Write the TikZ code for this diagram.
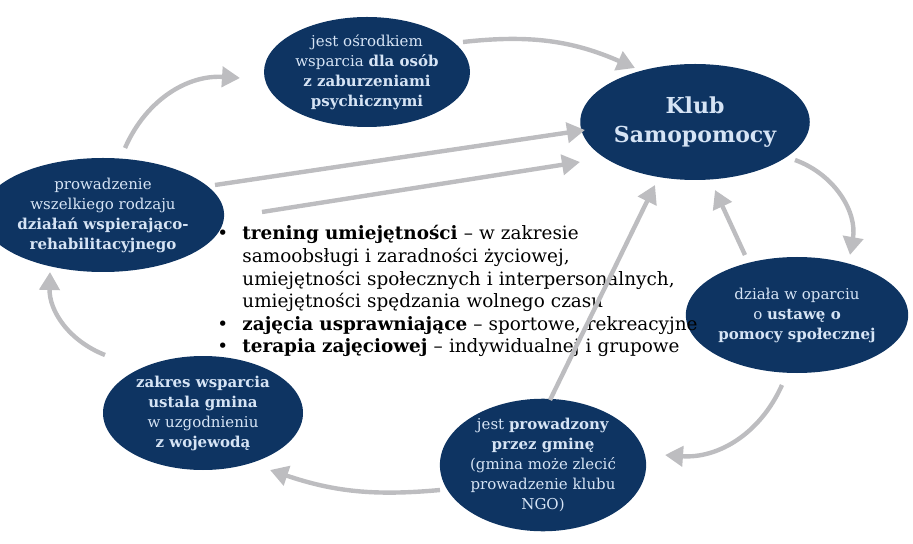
\documentclass[tikz,border=0pt]{standalone}
\usepackage{fontspec}
\setmainfont{DejaVu Serif}
\usetikzlibrary{arrows.meta,shapes.geometric}
\definecolor{navy}{HTML}{0E3462}
\definecolor{pale}{HTML}{D6E4F5}
\definecolor{arrowgray}{HTML}{BDBDC0}
\newcommand{\bulletitem}{\par\noindent\hangindent=12.5pt\hangafter=1\makebox[12.5pt][l]{•}}
\begin{document}
\begin{tikzpicture}[x=0.5pt,y=-0.5pt,
    blob/.style={ellipse,fill=navy,text=pale,align=center,inner sep=0pt,
      font=\fontsize{7.5}{10}\selectfont},
    flow/.style={draw=arrowgray,line width=2.2pt,
      -{Triangle[length=9pt,width=10pt]}}]
  \useasboundingbox (0,0) rectangle (913,544);
  % the six ovals
  \node[blob,minimum width=103pt,minimum height=55pt] (osob) at (367,72)
    {jest ośrodkiem\\wsparcia \textbf{dla osób}\\\textbf{z zaburzeniami}\\\textbf{psychicznymi}};
  \node[blob,minimum width=95pt,minimum height=58pt,font=\fontsize{11}{14.5}\selectfont\bfseries] (klub) at (695,122)
    {Klub\\Samopomocy};
  \node[blob,minimum width=105pt,minimum height=57pt] (dzial) at (103,215)
    {prowadzenie\\wszelkiego rodzaju\\\textbf{działań wspierająco-}\\\textbf{rehabilitacyjnego}};
  \node[blob,minimum width=95pt,minimum height=58pt] (ustawa) at (797,315)
    {działa w oparciu\\o \textbf{ustawę o}\\\textbf{pomocy społecznej}};
  \node[blob,minimum width=100pt,minimum height=57pt] (gmina) at (203,413)
    {\textbf{zakres wsparcia}\\\textbf{ustala gmina}\\w uzgodnieniu\\\textbf{z wojewodą}};
  \node[blob,minimum width=100pt,minimum height=63pt] (prowadz) at (543,465)
    {jest \textbf{prowadzony}\\\textbf{przez gminę}\\(gmina może zlecić\\prowadzenie klubu\\NGO)};
  % bullet list
  \node[anchor=north west,inner sep=0pt,text width=243pt,
    font=\fontsize{9.2}{11.3}\selectfont] (lista) at (217,217) {%
    \bulletitem\textbf{trening umiejętności} -- w zakresie\linebreak samoobsługi i zaradności życiowej,\linebreak umiejętności społecznych i interpersonalnych,\linebreak umiejętności spędzania wolnego czasu
    \bulletitem\textbf{zajęcia usprawniające} -- sportowe, rekreacyjne
    \bulletitem\textbf{terapia zajęciowej} -- indywidualnej i grupowe\par};
  % curved cycle
  \draw[flow] (125,148) to[bend left=35] (240,78);
  \draw[flow] (463,42) to[bend left=15] (635,68);
  \draw[flow] (795,160) to[bend left=40] (850,255);
  \draw[flow] (782,385) to[bend left=35] (665,455);
  \draw[flow] (440,490) to[bend left=12] (270,470);
  \draw[flow] (105,355) to[bend left=35] (50,272);
  % straight arrows to the club
  \draw[flow] (215,185) -- (585,130);
  \draw[flow] (262,212) -- (580,162);
  \draw[flow] (550,400) -- (655,185);
  \draw[flow] (745,255) -- (715,190);
\end{tikzpicture}
\end{document}
